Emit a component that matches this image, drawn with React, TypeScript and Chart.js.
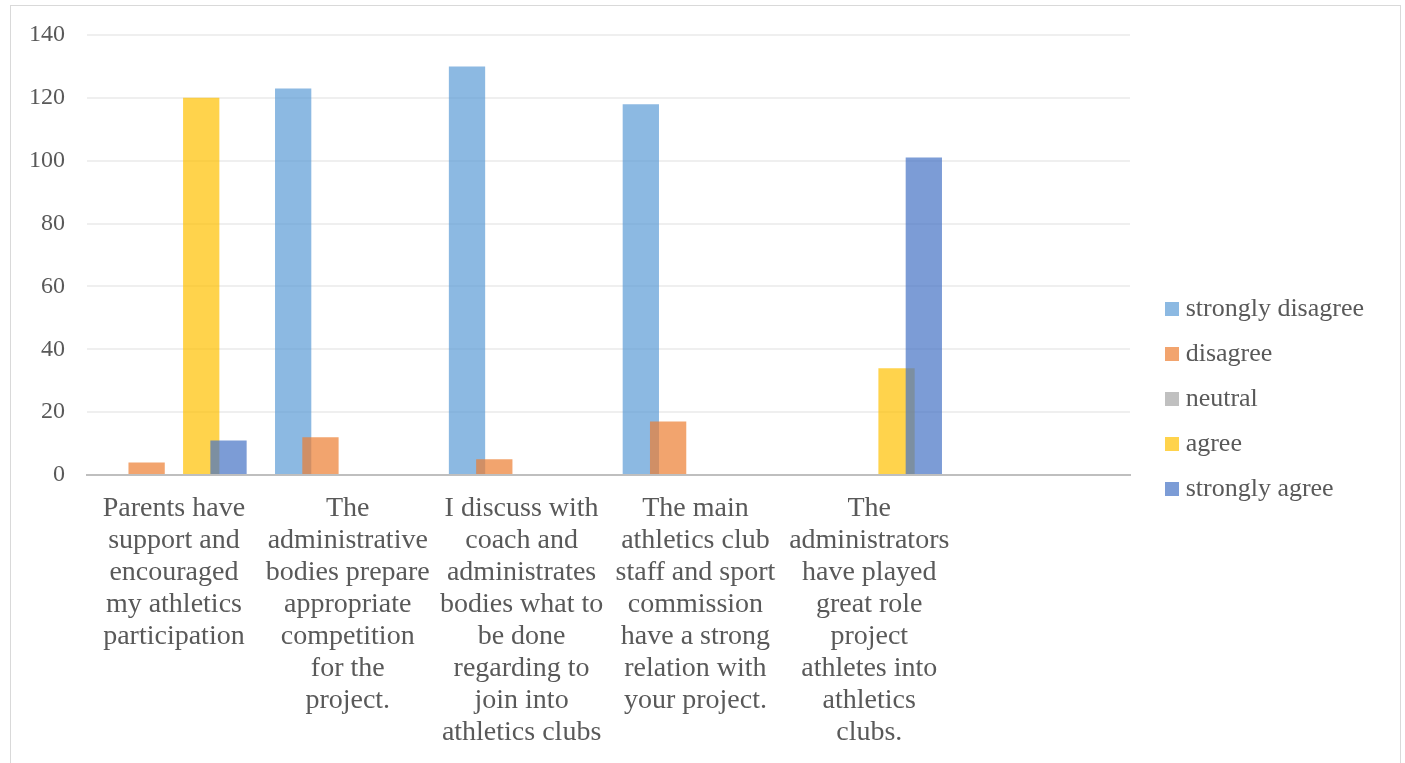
import React, { useEffect, useRef } from 'react';
import { Chart, registerables } from 'chart.js';

Chart.register(...registerables);

const categories: string[][] = [
  ['Parents have', 'support and', 'encouraged', 'my athletics', 'participation'],
  ['The', 'administrative', 'bodies prepare', 'appropriate', 'competition', 'for the', 'project.'],
  ['I discuss with', 'coach and', 'administrates', 'bodies what to', 'be done', 'regarding to', 'join into', 'athletics clubs'],
  ['The main', 'athletics club', 'staff and sport', 'commission', 'have a strong', 'relation with', 'your project.'],
  ['The', 'administrators', 'have played', 'great role', 'project', 'athletes into', 'athletics', 'clubs.'],
  [''],
];

const seriesNames = ['strongly disagree', 'disagree', 'neutral', 'agree', 'strongly agree'];

const stronglyDisagree = [0, 123, 130, 118, 0, null];
const disagree = [4, 12, 5, 17, 0, null];
const neutral = [0, 0, 0, 0, 0, null];
const agree = [120, 0, 0, 0, 34, null];
const stronglyAgree = [11, 0, 0, 0, 101, null];

const yMin = 0;
const yMax = 140;
const yStep = 20;

const seriesColors = [
  'rgba(91,155,213,0.7)',
  'rgba(237,125,49,0.7)',
  'rgba(165,165,165,0.7)',
  'rgba(255,192,0,0.7)',
  'rgba(68,114,196,0.7)',
];

const FONT = "'Liberation Serif', 'Times New Roman', serif";
const TEXT = '#595959';

function makeSwatch(color: string): HTMLCanvasElement {
  const c = document.createElement('canvas');
  c.width = 14;
  c.height = 14;
  const g = c.getContext('2d')!;
  g.fillStyle = color;
  g.fillRect(0, 0, 14, 14);
  return c;
}

const forwardDraw = {
  id: 'forwardDraw',
  beforeDatasetsDraw(chart: any) {
    const area = chart.chartArea;
    const ctx = chart.ctx;
    ctx.save();
    ctx.beginPath();
    ctx.rect(area.left, area.top - 2, area.right - area.left, area.bottom - area.top + 2);
    ctx.clip();
    for (let i = 0; i < chart.data.datasets.length; i++) {
      const meta = chart.getDatasetMeta(i);
      if (meta.visible !== false) meta.controller.draw();
    }
    ctx.restore();
    return false;
  },
};

const CANVAS_W = 1389;
const CANVAS_H = 757;
const PAD_RIGHT = 26;
const PLOT_RIGHT = 1119;

export default function App() {
  const ref = useRef<HTMLCanvasElement | null>(null);

  useEffect(() => {
    if (!ref.current) return;
    const seriesValues = [stronglyDisagree, disagree, neutral, agree, stronglyAgree];
    const swatches = seriesColors.map(makeSwatch);
    const chart = new Chart(ref.current, {
      type: 'bar',
      data: {
        labels: categories,
        datasets: seriesNames.map((name, i) => ({
          label: name,
          data: seriesValues[i],
          backgroundColor: seriesColors[i],
          borderWidth: 0,
          categoryPercentage: 0.785,
          barPercentage: 1.33,
        })),
      },
      plugins: [forwardDraw],
      options: {
        animation: false,
        responsive: false,
        devicePixelRatio: 1,
        layout: { padding: { top: 29, right: PAD_RIGHT, bottom: 0, left: 0 } },
        plugins: {
          tooltip: { enabled: false },
          legend: {
            position: 'right',
            labels: {
              usePointStyle: true,
              pointStyleWidth: 0.5,
              padding: 19,
              color: TEXT,
              font: { family: FONT, size: 26 },
              generateLabels: () =>
                seriesNames.map((name, i) => ({
                  text: name,
                  fillStyle: seriesColors[i],
                  strokeStyle: seriesColors[i],
                  lineWidth: 0,
                  hidden: false,
                  datasetIndex: i,
                  pointStyle: swatches[i],
                  fontColor: TEXT,
                })),
            },
          },
        },
        scales: {
          x: {
            grid: { display: false, drawTicks: false },
            border: { display: true, color: '#BFBFBF', width: 2 },
            ticks: {
              autoSkip: false,
              maxRotation: 0,
              minRotation: 0,
              padding: 18,
              color: TEXT,
              font: { family: FONT, size: 28, lineHeight: 32 / 28 },
            },
            afterFit: (s: any) => {
              s.height = 288;
            },
          },
          y: {
            min: yMin,
            max: yMax,
            grid: { color: '#EFEFEF', lineWidth: 2, drawTicks: false },
            border: { display: false },
            ticks: {
              stepSize: yStep,
              padding: 22,
              color: TEXT,
              font: { family: FONT, size: 24, lineHeight: 0.2 },
            },
            afterFit: (s: any) => {
              s.width = 76;
            },
          },
          y2: {
            type: 'linear',
            position: 'right',
            display: true,
            grid: { display: false, drawTicks: false },
            border: { display: false },
            ticks: { display: false },
            afterFit: (s: any) => {
              const lw = s.chart.legend ? s.chart.legend.width : 220;
              s.width = Math.max(0, CANVAS_W - PAD_RIGHT - lw - PLOT_RIGHT);
            },
          },
        },
      } as any,
    });
    return () => chart.destroy();
  }, []);

  return (
    <div
      style={{
        position: 'absolute',
        left: 10,
        top: 5,
        width: CANVAS_W,
        height: CANVAS_H,
        borderTop: '1px solid #D9D9D9',
        borderLeft: '1px solid #D9D9D9',
        borderRight: '1px solid #D9D9D9',
        background: '#fff',
        overflow: 'hidden',
      }}
    >
      <canvas ref={ref} width={CANVAS_W} height={CANVAS_H} style={{ display: 'block' }} />
    </div>
  );
}
